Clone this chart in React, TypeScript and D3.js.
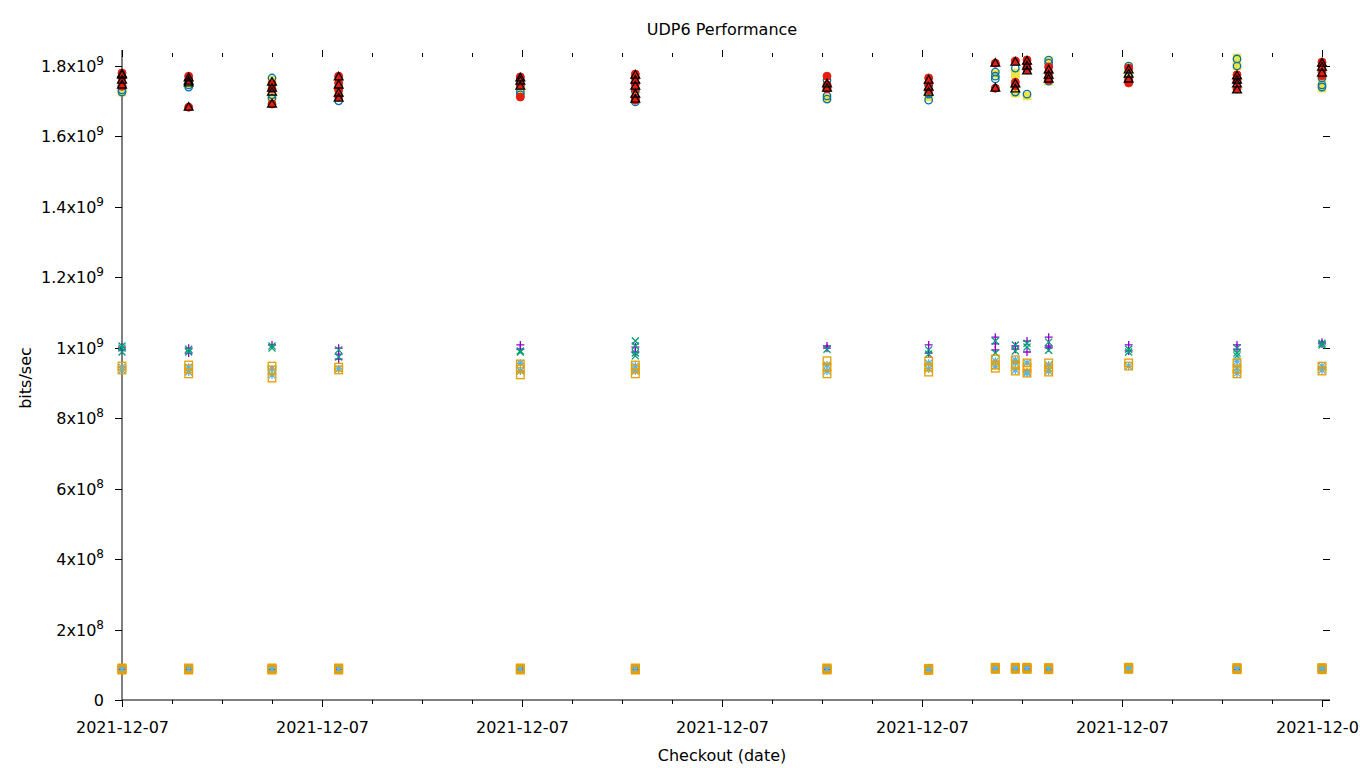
import React from "react";
import * as d3 from "d3";

// Checkout times (all on 2021-12-07), HH:MM
const times = ["00:00","00:40","01:30","02:10","03:59","05:08","07:03","08:04","08:44","08:56","09:03","09:16","10:04","11:09","12:00"];

// Values in units of 1e9 bits/sec, one list of runs per checkout time
const purplePlus = [
  [1.002,0.994,0.086],[0.999,0.985,0.086],[1.008,0.087],[0.999,0.982,0.968,0.086],[1.008,0.996,0.086],
  [1.002,0.988,0.086],[1.005,0.999,0.086],[1.008,0.985,0.085],[1.030,1.011,0.994,0.088],[1.005,0.996,0.088],
  [1.019,0.988,0.088],[1.030,1.005,1.000,0.087],[1.008,0.991,0.089],[1.008,0.996,0.086],[1.016,1.011,0.085]];
const greenX = [
  [0.999,0.988,1.005,0.087],[0.996,0.988,0.087],[1.005,0.999,0.088],[0.994,0.974,0.087],[0.991,0.988,0.087],
  [1.019,1.005,0.985,0.977,0.087],[0.996,0.087],[0.994,0.982,0.087],[1.019,0.985,0.089],[1.008,0.991,0.089],
  [1.013,1.002,0.089],[1.016,0.993,0.088],[0.996,0.988,0.088],[0.999,0.985,0.977,0.087],[1.013,1.008,0.087]];
const lightBlueStar = [
  [0.945,0.937,0.089],[0.945,0.931,0.089],[0.940,0.923,0.089],[0.940,0.089],[0.956,0.934,0.089],
  [0.948,0.934,0.089],[0.951,0.934,0.089],[0.956,0.940,0.088],[0.962,0.948,0.091],[0.965,0.957,0.937,0.091],
  [0.957,0.931,0.928,0.091],[0.951,0.934,0.090],[0.948,0.090],[0.962,0.943,0.928,0.089],[0.948,0.937,0.090]];
const orangeSquare = [
  [0.948,0.937,0.085,0.087,0.089,0.091],[0.951,0.940,0.926,0.085,0.087,0.089,0.091],[0.948,0.937,0.914,0.085,0.087,0.089,0.091],[0.945,0.937,0.085,0.087,0.089,0.091],[0.954,0.940,0.923,0.085,0.087,0.089,0.091],
  [0.951,0.940,0.926,0.085,0.087,0.089,0.091],[0.963,0.945,0.926,0.085,0.087,0.089,0.091],[0.962,0.945,0.931,0.084,0.086,0.088,0.090],[0.968,0.951,0.942,0.087,0.089,0.091,0.093],[0.966,0.951,0.934,0.087,0.089,0.091,0.093],
  [0.957,0.943,0.928,0.087,0.089,0.091,0.093],[0.957,0.943,0.931,0.086,0.088,0.090,0.092],[0.957,0.948,0.087,0.089,0.091,0.093],[0.957,0.940,0.926,0.086,0.088,0.090,0.092],[0.948,0.934,0.086,0.088,0.090,0.092]];
const yellowSquare = [
  [1.726,1.735],[1.749],[1.760,1.723,1.712],[1.729],[1.729,1.735],
  [1.732],[1.709,1.740],[1.712,1.735],[1.777],[1.777,1.780,1.723],
  [1.715],[1.814,1.757],[1.797,1.780],[1.823,1.800],[1.760,1.737]];
const blueCircle = [
  [1.732,1.743,1.726],[1.746,1.740],[1.766,1.718,1.709],[1.701,1.740],[1.760,1.726,1.718],
  [1.729,1.698],[1.706,1.715,1.760],[1.703,1.720,1.746],[1.783,1.771,1.763],[1.794,1.726],
  [1.720],[1.817,1.808,1.757],[1.800,1.769],[1.820,1.800],[1.766,1.746,1.740]];
const redCircle = [
  [1.780,1.769,1.754,1.743],[1.771,1.760,1.683],[1.749,1.735,1.692],[1.771,1.752,1.732,1.712],[1.769,1.746,1.712],
  [1.777,1.766,1.749,1.735,1.709,1.703],[1.771,1.746,1.735],[1.766,1.749,1.732],[1.808,1.737],[1.814,1.754,1.743],
  [1.817,1.806,1.797,1.789],[1.797,1.780,1.766,1.760],[1.794,1.760,1.752],[1.775,1.766,1.757,1.735],[1.811,1.800,1.783,1.772]];
const blackTriangle = [
  [1.774,1.760,1.746,1.777],[1.766,1.757,1.752,1.683],[1.754,1.726,1.737,1.692],[1.769,1.746,1.723,1.709],[1.766,1.757,1.743],
  [1.774,1.760,1.743,1.720,1.706],[1.749,1.737],[1.760,1.740,1.726],[1.808,1.737],[1.811,1.749,1.735],
  [1.814,1.800,1.786],[1.789,1.774,1.763],[1.789,1.777,1.763],[1.772,1.760,1.749,1.732],[1.808,1.797,1.780]];

const yTickValues = [0,0.2,0.4,0.6,0.8,1.0,1.2,1.4,1.6,1.8];
const yTickLabels = ["0","2x10|8","4x10|8","6x10|8","8x10|8","1x10|9","1.2x10|9","1.4x10|9","1.6x10|9","1.8x10|9"];

const seriesList = [
  { data: purplePlus, color: "#9400d3", shape: "plus" },
  { data: greenX, color: "#009e73", shape: "cross" },
  { data: lightBlueStar, color: "#56b4e9", shape: "star" },
  { data: orangeSquare, color: "#e69f00", shape: "square" },
  { data: yellowSquare, color: "#f0e442", shape: "fsquare" },
  { data: blueCircle, color: "#0072b2", shape: "circle" },
  { data: redCircle, color: "#e51e10", shape: "fcircle" },
  { data: blackTriangle, color: "#000000", shape: "triangle" },
];

const W = 1360, H = 768;
const L = 122, R = 1330, T = 50, B = 700;
const FONT = "'DejaVu Sans', sans-serif";

function parseT(s: string) {
  const [h, m] = s.split(":").map(Number);
  return new Date(2021, 11, 7, h, m);
}

function Marker({ x, y, shape, color }: { x: number; y: number; shape: string; color: string }) {
  const s = 4;
  const c = 3.5;
  const sw = 1.3;
  switch (shape) {
    case "plus":
      return <path d={`M${x - s},${y}H${x + s}M${x},${y - s}V${y + s}`} stroke={color} strokeWidth={sw} fill="none" />;
    case "cross":
      return <path d={`M${x - c},${y - c}L${x + c},${y + c}M${x - c},${y + c}L${x + c},${y - c}`} stroke={color} strokeWidth={sw} fill="none" />;
    case "star":
      return <path d={`M${x - s},${y}H${x + s}M${x},${y - s}V${y + s}M${x - c},${y - c}L${x + c},${y + c}M${x - c},${y + c}L${x + c},${y - c}`} stroke={color} strokeWidth={sw} fill="none" />;
    case "square":
      return <rect x={x - 3.8} y={y - 3.8} width={7.6} height={7.6} stroke={color} strokeWidth={sw} fill="none" />;
    case "fsquare":
      return <rect x={x - 3.8} y={y - 3.8} width={7.6} height={7.6} stroke={color} strokeWidth={1} fill={color} />;
    case "circle":
      return <circle cx={x} cy={y} r={3.7} stroke={color} strokeWidth={sw} fill="none" />;
    case "fcircle":
      return <circle cx={x} cy={y} r={4} stroke={color} strokeWidth={1} fill={color} />;
    case "triangle":
      return <path d={`M${x},${y - 4.6}L${x + 4.4},${y + 3}L${x - 4.4},${y + 3}Z`} stroke={color} strokeWidth={1.3} fill="none" />;
    default:
      return null;
  }
}

export default function App() {
  const x = d3.scaleTime()
    .domain([new Date(2021, 11, 7, 0, 0), new Date(2021, 11, 7, 12, 4, 48)])
    .range([L, R]);
  const y = d3.scaleLinear().domain([0, 1.8454]).range([B, T]);
  const majorX = x.ticks(d3.timeHour.every(2) as any);
  const minorX = x.ticks(d3.timeMinute.every(30) as any).filter(d => d.getMinutes() !== 0 || d.getHours() % 2 !== 0);
  const fmt = d3.timeFormat("%Y-%m-%d");

  return (
    <svg width={W} height={H} style={{ display: "block", position: "absolute", left: 0, top: 0, background: "#fff" }} fontFamily={FONT}>
      <rect x={0} y={0} width={W} height={H} fill="#fff" />
      {/* axes */}
      <line x1={L} y1={T} x2={L} y2={B} stroke="#000" strokeWidth={1} />
      <line x1={L} y1={B} x2={R} y2={B} stroke="#000" strokeWidth={1} />
      {/* y ticks */}
      {yTickValues.map((v, i) => {
        const yy = Math.round(y(v)) + 0.5;
        const [m, e] = yTickLabels[i].split("|");
        return (
          <g key={"y" + i}>
            <line x1={L - 7} x2={L} y1={yy} y2={yy} stroke="#000" />
            <line x1={R - 7} x2={R} y1={yy} y2={yy} stroke="#000" />
            <text x={104} y={yy + 5.5} textAnchor="end" fontSize={16} fill="#000">
              <tspan>{m}</tspan>
              {e && <tspan dy={-7.5} fontSize={12}>{e}</tspan>}
            </text>
          </g>
        );
      })}
      {/* x ticks */}
      {majorX.map((d, i) => {
        const xx = Math.round(x(d)) + 0.5;
        return (
          <g key={"xm" + i}>
            <line x1={xx} x2={xx} y1={B} y2={B + 7} stroke="#000" />
            <line x1={xx} x2={xx} y1={T} y2={T + 7} stroke="#000" />
            <text x={xx} y={733} textAnchor="middle" fontSize={16} fill="#000">{fmt(d)}</text>
          </g>
        );
      })}
      {minorX.map((d, i) => {
        const xx = Math.round(x(d)) + 0.5;
        return (
          <g key={"xn" + i}>
            <line x1={xx} x2={xx} y1={B} y2={B + 4} stroke="#000" />
            <line x1={xx} x2={xx} y1={T + 3} y2={T + 7} stroke="#000" />
          </g>
        );
      })}
      {/* points */}
      {seriesList.map((s, si) => (
        <g key={"s" + si}>
          {s.data.map((runs, ti) =>
            runs.map((v, ri) => (
              <Marker key={ti + "-" + ri} x={x(parseT(times[ti]))} y={y(v)} shape={s.shape} color={s.color} />
            ))
          )}
        </g>
      ))}
      {/* titles */}
      <text x={722} y={35} textAnchor="middle" fontSize={16} fill="#000">UDP6 Performance</text>
      <text x={722} y={761} textAnchor="middle" fontSize={16} fill="#000">Checkout (date)</text>
      <text transform={`translate(31,378) rotate(-90)`} textAnchor="middle" fontSize={16} fill="#000">bits/sec</text>
    </svg>
  );
}
